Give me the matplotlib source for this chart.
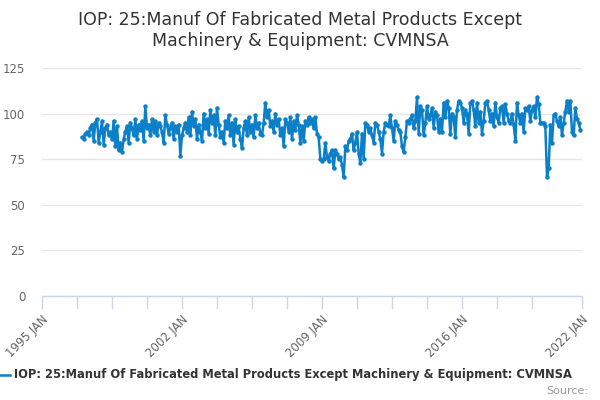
import numpy as np
import matplotlib
matplotlib.use("Agg")
import matplotlib.pyplot as plt
from matplotlib.lines import Line2D

# monthly index values, Jan 1997 .. Dec 2021
y1997 = [87, 86, 89, 90, 88, 92, 94, 85, 95, 97, 84, 90]
y1998 = [96, 83, 92, 94, 88, 90, 86, 96, 82, 93, 80, 84]
y1999 = [79, 86, 90, 93, 84, 95, 92, 88, 97, 86, 94, 91]
y2000 = [96, 85, 104, 92, 94, 88, 97, 90, 96, 88, 95, 93]
y2001 = [90, 84, 99, 94, 89, 92, 95, 86, 93, 90, 94, 77]
y2002 = [88, 92, 95, 90, 98, 88, 101, 93, 97, 86, 94, 90]
y2003 = [85, 100, 92, 97, 89, 102, 95, 99, 88, 103, 94, 87]
y2004 = [90, 84, 96, 92, 99, 88, 95, 83, 97, 90, 93, 86]
y2005 = [81, 92, 96, 88, 98, 90, 94, 87, 99, 92, 95, 89]
y2006 = [88, 95, 106, 98, 102, 93, 96, 90, 100, 94, 97, 88]
y2007 = [92, 82, 97, 95, 90, 98, 86, 96, 91, 99, 94, 84]
y2008 = [93, 85, 96, 94, 98, 95, 97, 92, 98, 89, 87, 75]
y2009 = [74, 75, 84, 76, 74, 78, 80, 70, 80, 78, 75, 76]
y2010 = [72, 65, 82, 80, 85, 86, 89, 80, 84, 90, 78, 73]
y2011 = [89, 75, 95, 94, 90, 92, 88, 84, 95, 94, 90, 86]
y2012 = [78, 90, 95, 94, 93, 99, 92, 85, 96, 94, 91, 90]
y2013 = [82, 79, 87, 96, 95, 97, 99, 92, 96, 109, 89, 104]
y2014 = [102, 88, 95, 104, 97, 99, 103, 92, 101, 99, 90, 97]
y2015 = [90, 106, 98, 107, 103, 89, 100, 98, 87, 102, 107, 106]
y2016 = [103, 95, 102, 100, 89, 106, 107, 102, 93, 106, 95, 101]
y2017 = [89, 96, 106, 107, 102, 96, 100, 93, 106, 98, 95, 103]
y2018 = [104, 95, 105, 100, 96, 95, 100, 94, 85, 106, 99, 95]
y2019 = [100, 90, 103, 102, 104, 96, 102, 104, 98, 109, 105, 95]
y2020 = [95, 95, 93, 65, 70, 94, 84, 99, 100, 96, 93, 98]
y2021 = [88, 95, 101, 107, 101, 107, 90, 88, 103, 97, 95, 91]

values = (y1997 + y1998 + y1999 + y2000 + y2001 + y2002 + y2003 + y2004 + y2005
          + y2006 + y2007 + y2008 + y2009 + y2010 + y2011 + y2012 + y2013 + y2014
          + y2015 + y2016 + y2017 + y2018 + y2019 + y2020 + y2021)
start_year = 1997

title = "IOP: 25:Manuf Of Fabricated Metal Products Except\nMachinery & Equipment: CVMNSA"
series_name = "IOP: 25:Manuf Of Fabricated Metal Products Except Machinery & Equipment: CVMNSA"
label_years = [1995, 2002, 2009, 2016, 2022]
y_ticks = [0, 25, 50, 75, 100, 125]

LINE = "#0b7fc7"
AXIS = "#ccd6eb"
GRID = "#e6e6e6"
TXT = "#666666"

x = start_year + np.arange(len(values)) / 12.0

fig = plt.figure(figsize=(6, 4), dpi=100)
ax = fig.add_axes([0.07, 0.26, 0.90, 0.57])

ax.plot(x, values, color=LINE, lw=1.8, marker="o", ms=3.2, mew=0, zorder=3)

ax.set_xlim(1995, 2022)
ax.set_ylim(0, 125)

# tick marks every 21 months, labels only on a few
tick_pos = list(1995 + np.arange(0, 15) * 1.75) + [2022]
ax.set_xticks(tick_pos)
ax.set_xticklabels([f"{int(round(t))} JAN" if round(t, 2) in label_years else "" for t in tick_pos],
                   rotation=45, ha="right", rotation_mode="anchor", fontsize=8.5, color=TXT)
ax.tick_params(axis="x", length=9, width=1, color=AXIS, pad=3)

ax.set_yticks(y_ticks)
ax.set_yticklabels([str(v) for v in y_ticks], fontsize=8.5, color=TXT)
ax.tick_params(axis="y", length=0, pad=12)
ax.yaxis.grid(True, color=GRID, lw=1)
ax.set_axisbelow(True)

for s in ["top", "right", "left"]:
    ax.spines[s].set_visible(False)
ax.spines["bottom"].set_color(AXIS)
ax.spines["bottom"].set_linewidth(1)

fig.text(0.5, 0.972, title, ha="center", va="top", fontsize=12.5, color="#333333", linespacing=1.2)

# legend item at the bottom
fig.add_artist(Line2D([-0.01, 0.017], [0.063, 0.063], transform=fig.transFigure,
                      color=LINE, lw=1.8))
fig.text(0.024, 0.063, series_name, ha="left", va="center", fontsize=8.3,
         fontweight="bold", color="#333333")
fig.text(0.98, 0.022, "Source:", ha="right", va="center", fontsize=8, color="#999999")

fig.savefig("out.png", dpi=100)
